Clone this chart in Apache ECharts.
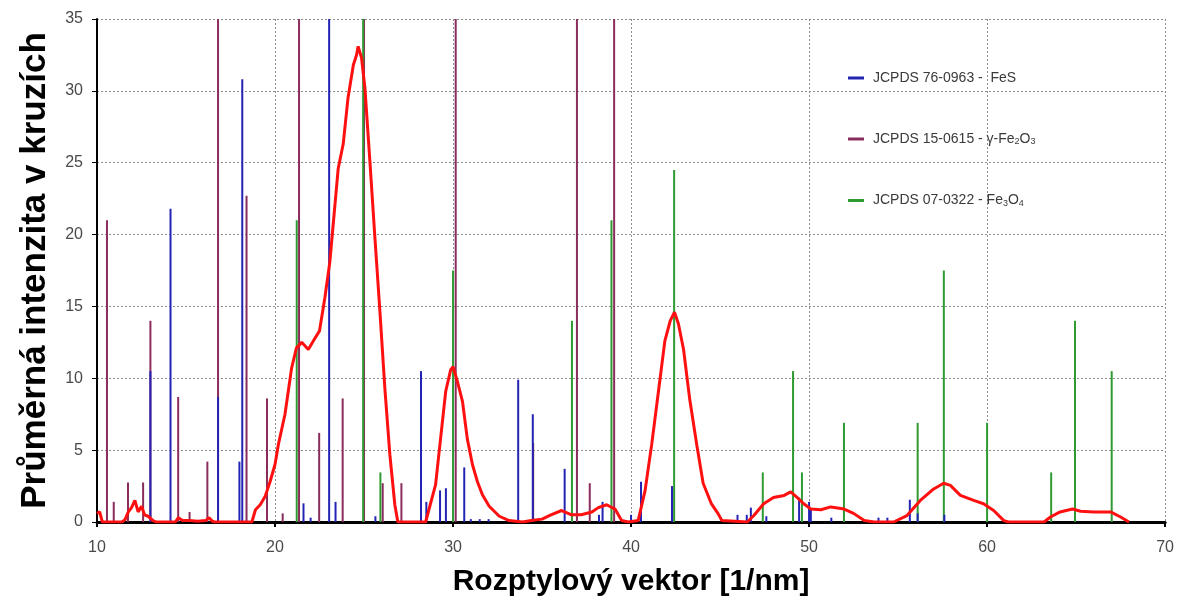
<!DOCTYPE html>
<html>
<head>
<meta charset="utf-8">
<script src="https://cdn.jsdelivr.net/npm/echarts@6/dist/echarts.min.js"></script>
<style>
  html, body { margin: 0; padding: 0; background: #fff; }
  #chart { width: 1177px; height: 605px; }
</style>
</head>
<body>
<div id="chart"></div>
<script>
// reference lines (position in 1/nm, relative intensity)
const fesX = [13.0, 14.13, 16.8, 18.0, 18.16, 21.6, 22.0, 23.04, 23.4, 25.64, 28.2, 28.5, 29.27, 29.6, 30.63, 31.0, 31.5, 32.0, 33.66, 34.48, 36.27, 38.2, 38.4, 40.0, 40.56, 42.3, 45.98, 46.5, 46.73, 47.6, 49.44, 50.0, 50.1, 51.25, 53.9, 54.4, 55.66, 56.1, 57.6];
const fesY = [10.5, 21.8, 8.7, 4.2, 30.8, 1.3, 0.3, 35, 1.4, 0.4, 10.5, 1.4, 2.2, 2.35, 3.8, 0.2, 0.2, 0.2, 9.9, 7.5, 3.7, 0.5, 1.4, 0.5, 2.8, 2.5, 0.5, 0.5, 1.0, 0.4, 1.7, 1.4, 0.9, 0.3, 0.3, 0.3, 1.55, 0.6, 0.5];

const fe2o3X = [10.56, 10.94, 11.74, 12.59, 13.0, 14.56, 15.2, 16.2, 16.8, 18.4, 19.55, 20.43, 21.35, 22.48, 23.8, 25.0, 26.05, 27.1, 30.15, 34.5, 36.96, 37.68, 39.05];
const fe2o3Y = [21, 1.4, 2.75, 2.75, 14, 8.7, 0.7, 4.2, 35, 22.7, 8.6, 0.6, 35, 6.2, 8.6, 35, 2.7, 2.7, 35, 5.5, 35, 2.7, 35];

const fe3o4X = [21.22, 24.95, 25.92, 30.0, 36.68, 38.9, 42.42, 47.4, 49.1, 49.6, 51.96, 56.1, 57.57, 60.0, 63.6, 64.94, 67.0];
const fe3o4Y = [21, 35, 3.45, 17.5, 14, 21, 24.5, 3.45, 10.5, 3.45, 6.9, 6.9, 17.5, 6.9, 3.45, 14, 10.5];

// measured profile
const scanX = [10.0, 10.15, 10.3, 11.4, 11.57, 11.76, 11.94, 12.13, 12.31, 12.5, 12.67, 12.87, 13.15, 13.33, 14.4, 14.57, 14.8, 15.2, 15.65, 16.1, 16.3, 16.48, 16.6, 18.7, 18.9, 19.17, 19.45, 19.72, 20.0, 20.19, 20.56, 20.93, 21.2, 21.5, 21.87, 22.15, 22.5, 22.8, 23.08, 23.55, 23.83, 24.1, 24.4, 24.58, 24.67, 24.86, 25.05, 25.33, 25.6, 25.89, 26.17, 26.45, 26.73, 26.9, 28.46, 29.02, 29.3, 29.59, 29.87, 30.0, 30.24, 30.53, 30.8, 31.09, 31.37, 31.65, 32.03, 32.6, 33.15, 33.9, 34.4, 35.0, 35.5, 36.1, 36.66, 37.2, 37.8, 38.16, 38.63, 39.1, 39.47, 39.85, 40.4, 40.79, 41.16, 41.54, 41.9, 42.2, 42.44, 42.66, 42.95, 43.3, 43.7, 44.05, 44.5, 44.88, 45.1, 46.53, 46.9, 47.45, 48.0, 48.6, 48.97, 49.34, 49.7, 50.1, 50.66, 51.22, 51.97, 52.5, 53.1, 53.66, 54.75, 55.5, 56.25, 57.0, 57.56, 57.94, 58.5, 59.25, 59.8, 60.37, 60.94, 61.2, 63.2, 63.56, 64.1, 64.8, 65.25, 66.0, 66.94, 67.5, 67.97];
const scanY = [0.6, 0.7, 0, 0, 0.15, 0.7, 1.0, 1.5, 0.7, 1.1, 0.5, 0.4, 0.1, 0, 0, 0.3, 0.1, 0.1, 0.05, 0.1, 0.3, 0.05, 0, 0, 0.85, 1.2, 1.8, 2.8, 4.0, 5.4, 7.5, 10.7, 12.1, 12.5, 12.0, 12.6, 13.3, 15.6, 18.1, 24.6, 26.3, 29.5, 31.8, 32.5, 33.1, 32.3, 30.2, 25.1, 20.0, 14.7, 9.3, 4.7, 1.2, 0, 0, 2.6, 5.8, 9.1, 10.6, 10.8, 9.8, 8.4, 5.8, 4.0, 2.8, 1.9, 1.1, 0.4, 0.1, 0, 0.1, 0.2, 0.5, 0.8, 0.5, 0.5, 0.7, 1.0, 1.2, 0.9, 0.1, 0, 0.1, 2.2, 5.4, 9.1, 12.6, 14.0, 14.6, 13.8, 12.0, 8.5, 5.3, 2.7, 1.3, 0.6, 0.1, 0, 0.45, 1.27, 1.7, 1.85, 2.1, 1.7, 1.27, 0.9, 0.85, 1.05, 0.9, 0.6, 0.1, 0, 0, 0.45, 1.5, 2.3, 2.7, 2.55, 1.85, 1.5, 1.27, 0.8, 0.1, 0, 0, 0.35, 0.7, 0.9, 0.75, 0.7, 0.7, 0.35, 0];

const zip = (xs, ys) => xs.map((x, i) => [x, ys[i]]);

// one thin vertical stick per reference line, drawn through the axes
const stickRenderer = (params, api) => {
  const top = api.coord([api.value(0), api.value(1)]);
  const base = api.coord([api.value(0), 0]);
  return {
    type: 'line',
    shape: { x1: top[0], y1: top[1], x2: base[0], y2: base[1] },
    style: { stroke: api.visual('color'), lineWidth: 2 },
  };
};

const chart = echarts.init(document.getElementById('chart'));

const option = {
  backgroundColor: '#fff',
  animation: false,
  grid: { left: 97, right: 11, top: 19, bottom: 83 },
  legend: {
    orient: 'vertical',
    left: 843,
    top: 66,
    itemGap: 47,
    itemWidth: 16,
    itemHeight: 3,
    icon: 'rect',
    data: ['JCPDS 76-0963 -  FeS', 'JCPDS 15-0615 - γ-Fe2O3', 'JCPDS 07-0322 - Fe3O4'],
    formatter: (name) => name.replace(/Fe(\d)O(\d)/, 'Fe{sub|$1}O{sub|$2}'),
    textStyle: {
      fontFamily: 'Liberation Sans',
      fontSize: 14,
      color: '#3a3a3a',
      padding: [0, 0, 0, 4],
      rich: {
        sub: { fontFamily: 'Liberation Sans', fontSize: 9, color: '#3a3a3a', verticalAlign: 'bottom', padding: [6, 0, 0, 0] },
      },
    },
  },
  xAxis: {
    type: 'value',
    min: 10,
    max: 70,
    interval: 10,
    name: 'Rozptylový vektor [1/nm]',
    nameLocation: 'middle',
    nameGap: 45,
    nameTextStyle: { fontFamily: 'Liberation Sans', fontWeight: 'bold', fontSize: 30, color: '#000' },
    axisLine: { lineStyle: { color: '#000', width: 3 } },
    axisTick: { length: 5, lineStyle: { color: '#000', width: 2 } },
    axisLabel: { fontFamily: 'Liberation Sans', fontSize: 16, color: '#4a4a4a', margin: 18 },
    splitLine: { show: true, lineStyle: { color: '#8c8c8c', width: 1, type: [2, 2] } },
  },
  yAxis: {
    type: 'value',
    min: 0,
    max: 35,
    interval: 5,
    name: 'Průměrná intenzita v kruzích',
    nameLocation: 'middle',
    nameGap: 44,
    nameTextStyle: { fontFamily: 'Liberation Sans', fontWeight: 'bold', fontSize: 35, color: '#000' },
    axisLine: { show: true, lineStyle: { color: '#000', width: 2 } },
    axisTick: { show: true, length: 5, lineStyle: { color: '#000', width: 1 } },
    axisLabel: { fontFamily: 'Liberation Sans', fontSize: 16, color: '#4a4a4a', margin: 14 },
    splitLine: { show: true, lineStyle: { color: '#8c8c8c', width: 1, type: [2, 2] } },
  },
  series: [
    {
      name: 'JCPDS 76-0963 -  FeS',
      type: 'custom',
      renderItem: stickRenderer,
      itemStyle: { color: '#2424b4' },
      data: zip(fesX, fesY),
      z: 3,
    },
    {
      name: 'JCPDS 15-0615 - γ-Fe2O3',
      type: 'custom',
      renderItem: stickRenderer,
      itemStyle: { color: '#8a2c5c' },
      data: zip(fe2o3X, fe2o3Y),
      z: 2,
    },
    {
      name: 'JCPDS 07-0322 - Fe3O4',
      type: 'custom',
      renderItem: stickRenderer,
      itemStyle: { color: '#2f9a32' },
      data: zip(fe3o4X, fe3o4Y),
      z: 2,
    },
    {
      name: 'profil',
      type: 'line',
      data: zip(scanX, scanY),
      showSymbol: false,
      lineStyle: { color: '#ff1010', width: 3 },
      itemStyle: { color: '#ff1010' },
      z: 5,
    },
  ],
};

chart.setOption(option);
window.addEventListener('resize', () => chart.resize());
</script>
</body>
</html>
